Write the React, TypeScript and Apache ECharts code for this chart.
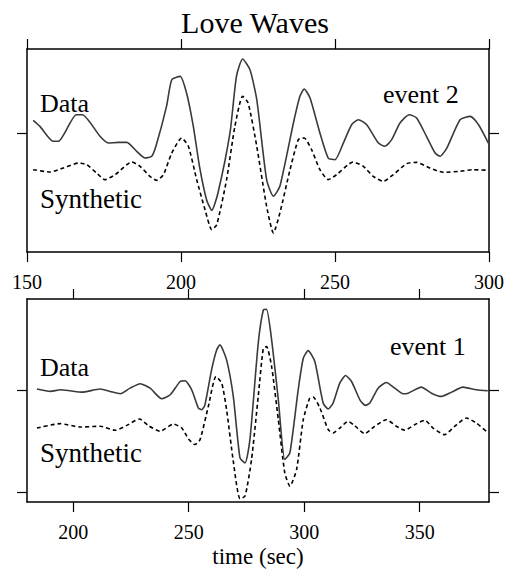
import React, { useEffect, useRef } from "react";
import * as echarts from "echarts";

const TITLE = "Love Waves";
const X_NAME = "time (sec)";
const TOP_TICKS = [150, 200, 250, 300];
const BOTTOM_TICKS = [200, 250, 300, 350];

// event 2 (top panel)
const ev2DataT = [152, 154.2, 158.5, 160.2, 166, 168, 173.7, 176.4, 179.7, 182.4, 185.6, 188.3, 190.5, 192, 195.3, 197, 199.7, 201.8, 204, 206, 208.3, 210, 212, 215.9, 218, 220, 222.4, 224.6, 227.8, 230, 232.1, 236.5, 238.6, 240, 241.9, 245.1, 247.8, 250, 252.7, 255.4, 257.6, 260.3, 264.1, 266.2, 268.4, 271.1, 274.1, 276.5, 279.7, 282.5, 284.1, 286.3, 290.6, 293.9, 296.6, 299.8];
const ev2DataY = [0.131, 0.072, -0.075, -0.075, 0.186, 0.186, -0.026, -0.092, -0.085, -0.085, -0.173, -0.239, -0.222, -0.108, 0.268, 0.529, 0.562, 0.399, 0.072, -0.32, -0.647, -0.752, -0.582, 0.007, 0.562, 0.732, 0.627, 0.333, -0.451, -0.614, -0.516, 0.105, 0.366, 0.438, 0.35, 0.007, -0.239, -0.255, -0.092, 0.088, 0.137, 0.088, -0.092, -0.124, -0.059, 0.105, 0.186, 0.154, -0.026, -0.19, -0.222, -0.141, 0.137, 0.17, 0.088, -0.092];
const ev2SynT = [152, 157.5, 161.8, 166.7, 169.4, 172.6, 175.3, 178.6, 184, 186.7, 189.9, 192.1, 194.3, 197, 200.2, 202.4, 205.1, 207.8, 210, 211.6, 214.8, 217.5, 220, 221.8, 224.6, 227.8, 230, 232.1, 235.4, 238.1, 240, 242.4, 245.1, 247.8, 250.5, 255.9, 259.2, 262.4, 265.7, 268.9, 273.3, 276.5, 280.8, 285.2, 290.6, 294.9, 299.8];
const ev2SynY = [-0.353, -0.376, -0.337, -0.288, -0.304, -0.386, -0.451, -0.402, -0.278, -0.32, -0.418, -0.458, -0.402, -0.19, -0.042, -0.124, -0.451, -0.745, -0.941, -0.892, -0.451, 0.072, 0.366, 0.301, -0.124, -0.712, -0.974, -0.778, -0.353, -0.059, -0.042, -0.157, -0.353, -0.451, -0.402, -0.278, -0.32, -0.418, -0.467, -0.402, -0.294, -0.281, -0.337, -0.379, -0.369, -0.353, -0.359];

// event 1 (bottom panel)
const ev1DataT = [184.3, 190.1, 194.4, 198.7, 203.7, 211.7, 216, 220.3, 224.6, 229, 233.3, 238.3, 242, 246.3, 248.4, 251.3, 254.2, 255.6, 257, 259.9, 262.1, 263.5, 266.4, 269.3, 272.2, 274.4, 276.5, 280.1, 282.3, 283.7, 285.9, 288.8, 291.6, 293.8, 297.4, 299.6, 301.7, 304.6, 308.2, 310.4, 312.5, 315.4, 317.9, 320.5, 324.1, 326.5, 328.4, 332, 335.6, 339.2, 342.8, 345, 350.7, 355.1, 359.4, 363.8, 368.7, 374.5, 379.5];
const ev1DataY = [0.007, -0.016, 0, -0.01, -0.023, 0.007, -0.016, -0.039, 0.016, 0.059, 0.016, -0.088, -0.049, 0.081, 0.088, 0, -0.179, -0.195, -0.15, 0.195, 0.39, 0.44, 0.293, -0.065, -0.668, -0.717, -0.489, 0.456, 0.782, 0.788, 0.489, -0.098, -0.684, -0.619, 0, 0.309, 0.384, 0.277, -0.13, -0.189, -0.13, 0.065, 0.14, 0.081, -0.098, -0.153, -0.13, 0.016, 0.072, 0.016, -0.039, -0.033, 0.026, -0.033, -0.065, -0.023, 0.026, 0, -0.01];
const ev1SynT = [184.3, 194.4, 203, 211.7, 218.2, 223.2, 228.7, 232.6, 237.6, 243.4, 247, 249.9, 252.7, 254.9, 258.5, 261.8, 264.3, 266.4, 269.3, 272.2, 274.4, 277.2, 280.1, 282.3, 283.7, 285.9, 288.8, 291.6, 293.8, 296.7, 299.6, 302.4, 303.9, 306.8, 310.4, 312.5, 315.4, 319, 321.9, 326.2, 330.5, 335.6, 339.9, 343.5, 347.8, 352.2, 355.8, 360.8, 365.1, 370.2, 374.5, 378.8];
const ev1SynY = [-0.375, -0.332, -0.365, -0.358, -0.397, -0.349, -0.287, -0.352, -0.407, -0.336, -0.375, -0.482, -0.537, -0.489, -0.163, 0.13, 0.065, -0.195, -0.7, -1.068, -1.042, -0.684, -0.065, 0.407, 0.423, 0.228, -0.293, -0.814, -0.945, -0.782, -0.293, -0.081, -0.072, -0.179, -0.391, -0.423, -0.375, -0.309, -0.352, -0.43, -0.358, -0.293, -0.358, -0.397, -0.342, -0.3, -0.375, -0.44, -0.358, -0.277, -0.326, -0.407];

const FONT = "'Liberation Serif', 'Times New Roman', serif";

function zip(t: number[], y: number[]) {
  return t.map((v, i) => [v, y[i]]);
}

function xAx(gridIndex: number, min: number, max: number, ticks: number[], position: string, labels: boolean) {
  return {
    type: "value",
    gridIndex,
    min,
    max,
    position,
    axisLine: { show: true, onZero: false, lineStyle: { color: "#000", width: 1.5 } },
    axisTick: { show: true, inside: false, length: 10, customValues: ticks, lineStyle: { color: "#000", width: 1.2 } },
    axisLabel: { show: labels, customValues: ticks, margin: 20, color: "#000", fontSize: 20, fontFamily: FONT },
    splitLine: { show: false },
  };
}

function yAx(gridIndex: number, min: number, max: number, ticks: number[], position: string) {
  return {
    type: "value",
    gridIndex,
    min,
    max,
    position,
    axisLine: { show: true, onZero: false, lineStyle: { color: "#000", width: 1.5 } },
    axisTick: { show: true, inside: false, length: 10, customValues: ticks, lineStyle: { color: "#000", width: 1.2 } },
    axisLabel: { show: false },
    splitLine: { show: false },
  };
}

function line(data: number[][], xi: number, yi: number, dashed: boolean) {
  return {
    type: "line",
    xAxisIndex: xi,
    yAxisIndex: yi,
    data,
    showSymbol: false,
    smooth: 0.2,
    lineStyle: dashed
      ? { color: "#000", width: 1.6, type: [4, 3] }
      : { color: "#3a3a3a", width: 1.6, type: "solid" },
    silent: true,
  };
}

function txt(text: string, x: number, y: number, size: number, align = "left") {
  return {
    type: "text",
    x,
    y,
    style: { text, fontSize: size, fontFamily: FONT, fill: "#000", align, verticalAlign: "middle" },
  };
}

export default function App() {
  const ref = useRef<HTMLDivElement>(null);
  useEffect(() => {
    if (!ref.current) return;
    const chart = echarts.init(ref.current, undefined, { renderer: "svg" });
    chart.setOption({
      animation: false,
      backgroundColor: "#fff",
      grid: [
        { left: 27, top: 49, width: 462, height: 203, outerBoundsMode: "none" },
        { left: 27, top: 299, width: 462, height: 203, outerBoundsMode: "none" },
      ],
      xAxis: [
        xAx(0, 150, 300, TOP_TICKS, "bottom", true),
        xAx(0, 150, 300, TOP_TICKS, "top", false),
        xAx(1, 180, 380, BOTTOM_TICKS, "bottom", true),
        xAx(1, 180, 380, BOTTOM_TICKS, "top", false),
      ],
      yAxis: [
        yAx(0, -1.16, 0.83, [0], "left"),
        yAx(0, -1.16, 0.83, [0], "right"),
        yAx(1, -1.1, 0.89, [-1, 0], "left"),
        yAx(1, -1.1, 0.89, [-1, 0], "right"),
      ],
      series: [
        line(zip(ev2DataT, ev2DataY), 0, 0, false),
        line(zip(ev2SynT, ev2SynY), 0, 0, true),
        line(zip(ev1DataT, ev1DataY), 2, 2, false),
        line(zip(ev1SynT, ev1SynY), 2, 2, true),
      ],
      graphic: [
        txt(TITLE, 255, 22, 30, "center"),
        txt("Data", 40, 103, 26),
        txt("Synthetic", 40, 199, 27),
        txt("event 2", 383, 94, 26),
        txt("Data", 40, 367, 26),
        txt("Synthetic", 40, 453, 27),
        txt("event 1", 390, 346, 26),
        txt(X_NAME, 258, 556, 23, "center"),
      ],
    });
    return () => chart.dispose();
  }, []);
  return <div ref={ref} style={{ position: "fixed", left: 0, top: 0, width: 509, height: 570 }} />;
}
